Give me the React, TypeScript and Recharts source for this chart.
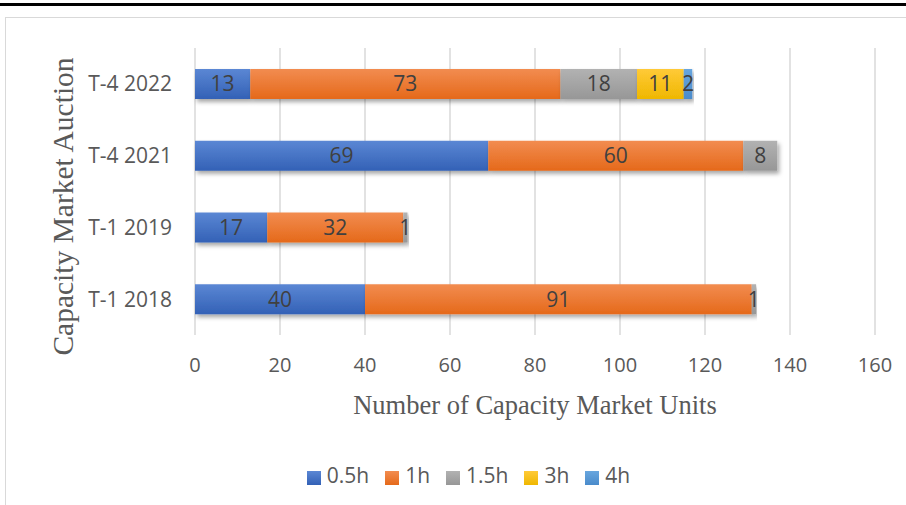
import React from "react";
import { BarChart, Bar, XAxis, YAxis, CartesianGrid, Legend, LabelList } from "recharts";

const auctions = ["T-4 2022", "T-4 2021", "T-1 2019", "T-1 2018"];
const h05 = [13, 69, 17, 40];
const h1 = [73, 60, 32, 91];
const h15 = [18, 8, 1, 1];
const h3 = [11, 0, 0, 0];
const h4 = [2, 0, 0, 0];
const xTicks = [0, 20, 40, 60, 80, 100, 120, 140, 160];

const series = [
  { key: "h05", name: "0.5h", top: "#5b87d4", bottom: "#3361b6" },
  { key: "h1", name: "1h", top: "#f28c50", bottom: "#e5691a" },
  { key: "h15", name: "1.5h", top: "#b2b2b2", bottom: "#979797" },
  { key: "h3", name: "3h", top: "#ffca38", bottom: "#efb700" },
  { key: "h4", name: "4h", top: "#68a6de", bottom: "#4a8bcb" },
];
const order = series.map((s) => s.name);

const data = auctions.map((name, i) => ({
  name,
  h05: h05[i],
  h1: h1[i],
  h15: h15[i],
  h3: h3[i],
  h4: h4[i],
}));

const sans = "'Open Sans', 'Liberation Sans', sans-serif";
const serif = "'Liberation Serif', 'DejaVu Serif', serif";

const YTitle = (props: any) => {
  const vb = props.viewBox;
  const cx = vb.x + 63;
  const cy = vb.y + vb.height / 2 + 15;
  return (
    <text x={cx} y={cy} transform={`rotate(-90 ${cx} ${cy})`} textAnchor="middle" dominantBaseline="central"
      fill="#595959" fontFamily={serif} fontSize={29.5}>
      Capacity Market Auction
    </text>
  );
};

const XTitle = (props: any) => {
  const vb = props.viewBox;
  return (
    <text x={vb.x + vb.width / 2} y={vb.y + 70} textAnchor="middle" dominantBaseline="central"
      fill="#595959" fontFamily={serif} fontSize={26.5}>
      Number of Capacity Market Units
    </text>
  );
};

export default function App() {
  return (
    <div style={{ position: "absolute", left: 0, top: 0, width: 906, height: 505, background: "#fff", overflow: "hidden" }}>
      <div style={{ position: "absolute", left: 0, top: 3, width: 906, height: 3, background: "#000" }} />
      <div style={{ position: "absolute", left: 5, top: 17, width: 920, height: 520, border: "1px solid #d9d9d9", boxSizing: "border-box" }} />
      <div style={{ position: "absolute", left: 0, top: 0 }}>
        <BarChart width={906} height={505} data={data} layout="vertical" barSize={30}
          margin={{ top: 48, right: 31, left: 0, bottom: 16 }}>
          <defs>
            {series.map((s) => (
              <linearGradient key={s.key} id={`g-${s.key}`} x1="0" y1="0" x2="0" y2="1">
                <stop offset="0%" stopColor={s.top} />
                <stop offset="100%" stopColor={s.bottom} />
              </linearGradient>
            ))}
            <filter id="shadow" x="-10%" y="-20%" width="130%" height="160%">
              <feDropShadow dx="2" dy="3" stdDeviation="2" floodColor="#000" floodOpacity="0.35" />
            </filter>
          </defs>
          <CartesianGrid horizontal={false} stroke="#d9d9d9" strokeWidth={1.5} />
          <XAxis type="number" domain={[0, 160]} ticks={xTicks} interval={0} axisLine={false} tickLine={false}
            tickSize={0} tickMargin={23} height={126}
            tick={{ fill: "#595959", fontSize: 20, fontFamily: sans }} label={<XTitle />} />
          <YAxis type="category" dataKey="name" width={195} axisLine={false} tickLine={false} tickSize={0}
            tickMargin={23} tick={{ fill: "#595959", fontSize: 21, fontFamily: sans }} label={<YTitle />} />
          <Legend verticalAlign="bottom" align="center" iconType="square" iconSize={14}
            itemSorter={(item: any) => order.indexOf(item.value)}
            wrapperStyle={{ fontFamily: sans, fontSize: 20, paddingLeft: 39 }}
            formatter={(v: string) => (
              <span style={{ color: "#595959", fontSize: 21, fontFamily: sans, paddingLeft: 2, paddingRight: 6 }}>{v}</span>
            )} />
          {series.map((s) => (
            <Bar key={s.key} dataKey={s.key} name={s.name} stackId="a" fill={`url(#g-${s.key})`}
              filter="url(#shadow)" isAnimationActive={false}>
              <LabelList dataKey={s.key} position="center" fill="#404040" fontSize={21} fontFamily={sans}
                formatter={(v: any) => (v ? v : "")} />
            </Bar>
          ))}
        </BarChart>
      </div>
    </div>
  );
}
